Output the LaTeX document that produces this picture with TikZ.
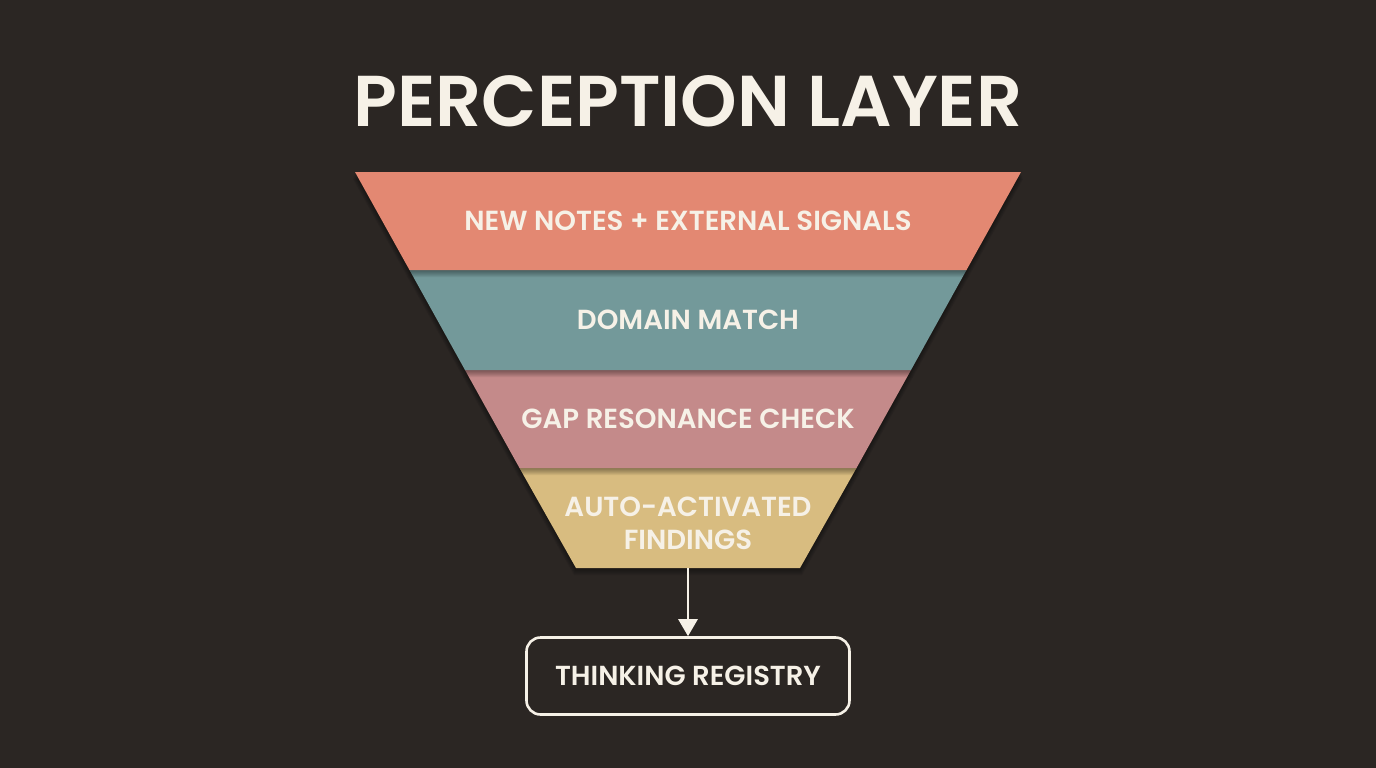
\documentclass[tikz,border=0pt]{standalone}
\usepackage{fontspec}
\setmainfont{Poppins}[UprightFont=* Medium, BoldFont=* SemiBold]
\usetikzlibrary{arrows.meta}
\definecolor{bg}{HTML}{2B2623}
\definecolor{ink}{HTML}{F6F1E7}
\definecolor{cA}{HTML}{E38872}
\definecolor{cB}{HTML}{73999A}
\definecolor{cC}{HTML}{C48A8A}
\definecolor{cD}{HTML}{D8BC80}
\tikzset{
  lbl/.style={text=ink, font=\fontsize{27.6}{33}\selectfont\bfseries, align=center},
  regbox/.style={draw=ink, line width=2.6pt, rounded corners=14pt, minimum width=323pt, minimum height=77pt, text=ink, font=\fontsize{27.5}{32}\selectfont\bfseries},
  flow/.style={draw=ink, line width=2.8pt, -{Triangle[width=19pt,length=17pt]}}
}
% soft shadow of a trapezoid: top y, bottom y, top-left x, top-right x, bottom-left x, bottom-right x
\newcommand{\softshadow}[6]{%
  \foreach \d in {1,2,...,7}{%
    \fill[black, opacity=0.06] (#3-\d*0.3,#1+\d) -- (#4+\d*0.3,#1+\d) -- (#6+\d*0.3,#2+\d) -- (#5-\d*0.3,#2+\d) -- cycle;
  }}
\begin{document}
\begin{tikzpicture}[x=1pt,y=-1pt]
\fill[bg] (0,0) rectangle (1376,768);
\useasboundingbox (0,0) rectangle (1376,768);
% band 4
\softshadow{468}{568}{519.5}{856.5}{576}{800}
\fill[cD] (519.5,468) -- (856.5,468) -- (800,568) -- (576,568) -- cycle;
% band 3
\softshadow{370}{468}{465}{911}{519.5}{856.5}
\fill[cC] (465,370) -- (911,370) -- (856.5,468) -- (519.5,468) -- cycle;
% band 2
\softshadow{270}{370}{409.5}{966.5}{465}{911}
\fill[cB] (409.5,270) -- (966.5,270) -- (911,370) -- (465,370) -- cycle;
% band 1
\softshadow{172}{270}{355}{1021}{409.5}{966.5}
\fill[cA] (355,172) -- (1021,172) -- (966.5,270) -- (409.5,270) -- cycle;
% title
\node[text=ink, font=\fontsize{72}{80}\selectfont\bfseries] (title) at (688,101) {PERCEPTION LAYER};
% labels
\node[lbl] (l1) at (688,221) {NEW NOTES + EXTERNAL SIGNALS};
\node[lbl] (l2) at (688,320) {DOMAIN MATCH};
\node[lbl] (l3) at (688,419) {GAP RESONANCE CHECK};
\node[lbl] (l4) at (688,523) {AUTO-ACTIVATED\\FINDINGS};
\coordinate (fbot) at (688,568);
\node[regbox] (reg) at (688,676) {THINKING REGISTRY};
\draw[flow] (fbot) -- (reg.north);
\end{tikzpicture}
\end{document}
